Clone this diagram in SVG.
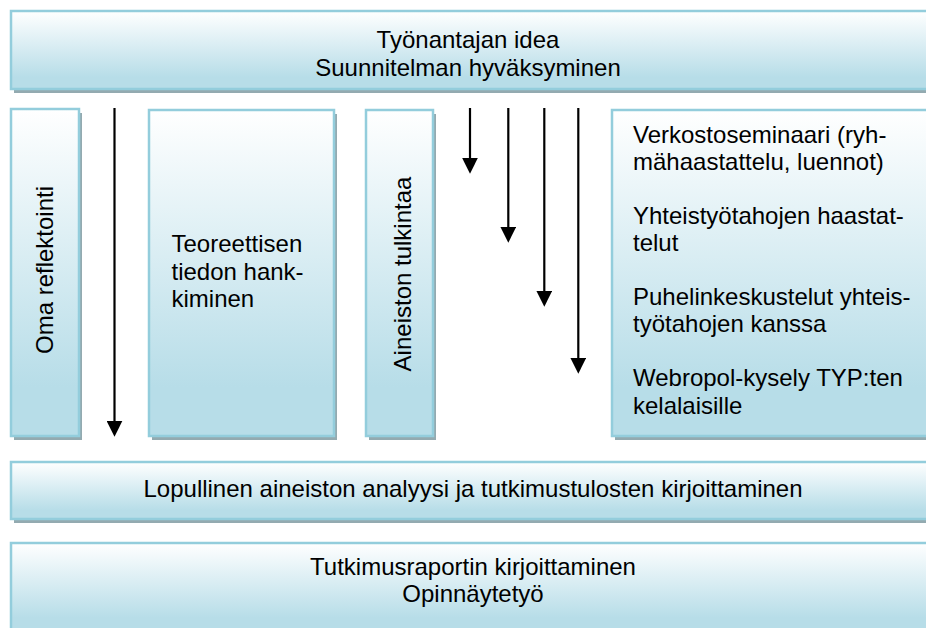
<svg xmlns="http://www.w3.org/2000/svg" width="926" height="628" viewBox="0 0 926 628">
<defs>
<linearGradient id="g" x1="0" y1="0" x2="0" y2="1">
<stop offset="0" stop-color="#FFFFFF"/>
<stop offset="0.85" stop-color="#B7DDE8"/>
<stop offset="1" stop-color="#B7DDE8"/>
</linearGradient>
<marker id="ah" markerUnits="userSpaceOnUse" markerWidth="16" markerHeight="16" viewBox="0 0 15 15" refX="5" refY="7.5" orient="auto">
<path d="M0,0 L15,7.5 L0,15 z" fill="#000"/>
</marker>
</defs>
<style>
.sh{fill:#93AAB0}
.bx{fill:url(#g);stroke:#93CDDC;stroke-width:2.5}
.t{font-family:"Liberation Sans",Arial,sans-serif;font-size:24px;fill:#000}
.c{text-anchor:middle}
.ar{stroke:#000;stroke-width:2.2;fill:none;marker-end:url(#ah)}
</style>
<rect width="926" height="628" fill="#FFFFFF"/>

<g id="node-top">
<rect class="sh" x="14" y="15" width="930" height="78"/>
<rect class="bx" x="11" y="11" width="930" height="78"/>
<text class="t c" x="468" y="48">Työnantajan idea</text>
<text class="t c" x="468" y="75.5">Suunnitelman hyväksyminen</text>
</g>

<g id="node-oma">
<rect class="sh" x="14" y="113" width="68" height="327"/>
<rect class="bx" x="11" y="109" width="68" height="327"/>
<text class="t c" transform="translate(53,270) rotate(-90)">Oma reflektointi</text>
</g>

<g id="node-teoria">
<rect class="sh" x="152" y="114" width="185" height="326"/>
<rect class="bx" x="149" y="110" width="185" height="326"/>
<text class="t" x="171.5" y="252">Teoreettisen</text>
<text class="t" x="171.5" y="279.5">tiedon hank-</text>
<text class="t" x="171.5" y="307">kiminen</text>
</g>

<g id="node-tulkinta">
<rect class="sh" x="369" y="114" width="67" height="326"/>
<rect class="bx" x="366" y="110" width="67" height="326"/>
<text class="t c" transform="translate(410.5,274) rotate(-90)">Aineiston tulkintaa</text>
</g>

<g id="node-aineisto">
<rect class="sh" x="615" y="114" width="330" height="326"/>
<rect class="bx" x="612" y="110" width="330" height="326"/>
<text class="t" x="633" y="142.5">Verkostoseminaari (ryh-</text>
<text class="t" x="633" y="170">mähaastattelu, luennot)</text>
<text class="t" x="633" y="223.5">Yhteistyötahojen haastat-</text>
<text class="t" x="633" y="251">telut</text>
<text class="t" x="633" y="304.5">Puhelinkeskustelut yhteis-</text>
<text class="t" x="633" y="332">työtahojen kanssa</text>
<text class="t" x="633" y="386">Webropol-kysely TYP:ten</text>
<text class="t" x="633" y="413.5">kelalaisille</text>
</g>

<g id="node-analyysi">
<rect class="sh" x="14" y="466" width="930" height="57"/>
<rect class="bx" x="11" y="462" width="930" height="57"/>
<text class="t c" x="473" y="497">Lopullinen aineiston analyysi ja tutkimustulosten kirjoittaminen</text>
</g>

<g id="node-raportti">
<rect class="sh" x="14" y="547" width="930" height="88"/>
<rect class="bx" x="11" y="543" width="930" height="88"/>
<text class="t c" x="473" y="575">Tutkimusraportin kirjoittaminen</text>
<text class="t c" x="473" y="602">Opinnäytetyö</text>
</g>

<g id="connectors">
<line class="ar" x1="114.5" y1="108" x2="114.5" y2="426"/>
<line class="ar" x1="470" y1="108" x2="470" y2="163"/>
<line class="ar" x1="508.3" y1="108" x2="508.3" y2="232"/>
<line class="ar" x1="544.3" y1="108" x2="544.3" y2="296"/>
<line class="ar" x1="578.3" y1="108" x2="578.3" y2="363"/>
</g>
</svg>
